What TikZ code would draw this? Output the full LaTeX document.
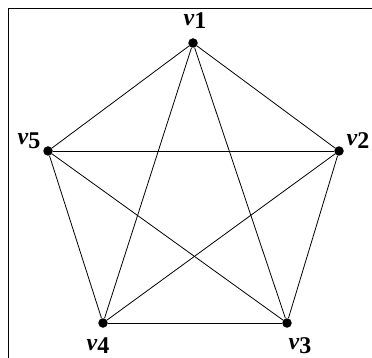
\documentclass[tikz,border=0pt]{standalone}
\usepackage{fontspec}
\setmainfont{Liberation Serif}
\usepackage{tikz}
\usetikzlibrary{positioning}

\newcommand{\vname}[1]{\textbf{\textit{v}}\raisebox{-0.35ex}{\textbf{#1}}}

\begin{document}
\begin{tikzpicture}[x=1pt, y=-1pt,
  vtx/.style={circle, fill=black, inner sep=0pt, minimum size=9.5pt},
  vlbl/.style={inner sep=0pt, font=\fontsize{24}{26}\selectfont},
  edge/.style={line width=0.8pt}
]
  \useasboundingbox (0,0) rectangle (372,358);
  \fill[white] (0,0) rectangle (372,358);

  % frame
  \draw[line width=0.8pt] (8,358) -- (8,8) -- (372,8);

  % vertices
  \node[vtx] (v1) at (193,43) {};
  \node[vtx] (v2) at (339,151) {};
  \node[vtx] (v3) at (287,323) {};
  \node[vtx] (v4) at (103,323) {};
  \node[vtx] (v5) at (48,151) {};

  % labels
  \node[vlbl] (l1) at (195,21) {\vname{1}};
  \node[vlbl] (l2) at (358,141) {\vname{2}};
  \node[vlbl] (l3) at (300,346) {\vname{3}};
  \node[vlbl] (l4) at (98,346) {\vname{4}};
  \node[vlbl] (l5) at (29,141) {\vname{5}};

  % edges of K5
  \foreach \a/\b in {1/2,1/3,1/4,1/5,2/3,2/4,2/5,3/4,3/5,4/5}
    \draw[edge] (v\a) -- (v\b);
\end{tikzpicture}
\end{document}
